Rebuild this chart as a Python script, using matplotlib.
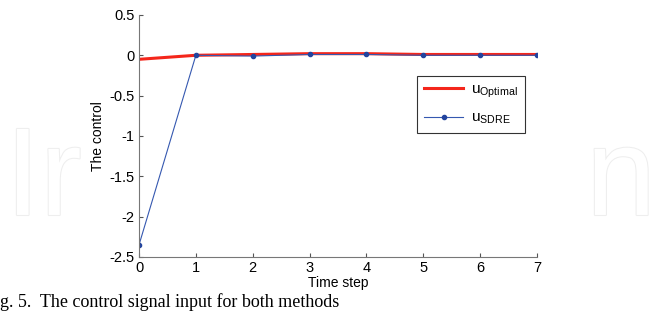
import matplotlib.pyplot as plt
import matplotlib.patheffects as pe

plt.rcParams['font.family'] = ['Liberation Sans', 'DejaVu Sans']

# data
steps = [0, 1, 2, 3, 4, 5, 6, 7]
u_optimal = [-0.05, 0.0, 0.01, 0.02, 0.02, 0.01, 0.01, 0.01]
u_sdre = [-2.35, 0.0, -0.01, 0.01, 0.01, 0.0, 0.0, 0.0]

x_ticks = [0, 1, 2, 3, 4, 5, 6, 7]
y_ticks = [-2.5, -2, -1.5, -1, -0.5, 0, 0.5]

fig = plt.figure(figsize=(6.7, 3.18), dpi=100)

# faint watermark letters behind the chart
for xx, txt in [(0.008, 'Ir'), (0.875, 'n')]:
    fig.text(xx, 0.324, txt, fontsize=90, color='white', zorder=0,
             path_effects=[pe.withStroke(linewidth=1.5, foreground='#eeeeee')])

ax = fig.add_axes([0.2075, 0.192, 0.594, 0.761])
ax.patch.set_alpha(0)

ax.plot(steps, u_optimal, color='#f4261b', linewidth=2.2, label=r'$\mathregular{u_{Optimal}}$')
ax.plot(steps, u_sdre, color='#3558b0', linewidth=0.8, marker='o', markersize=3,
        markerfacecolor='#23449e', markeredgecolor='#23449e', label=r'$\mathregular{u_{SDRE}}$')

ax.set_xlim(0, 7)
ax.set_ylim(-2.5, 0.5)
ax.set_xticks(x_ticks)
ax.set_yticks(y_ticks)
ax.set_yticklabels(['-2.5', '-2', '-1.5', '-1', '-0.5', '0', '0.5'])
ax.tick_params(direction='in', length=3, labelsize=10.5, color='#555555', pad=3)
ax.spines['top'].set_visible(False)
ax.spines['right'].set_visible(False)
ax.spines['left'].set_color('#777777')
ax.spines['bottom'].set_color('#777777')

ax.set_xlabel('Time step', fontsize=10, labelpad=1)
ax.set_ylabel('The control', fontsize=10, labelpad=3)

leg = ax.legend(loc='upper left', bbox_to_anchor=(0.698, 0.748), borderaxespad=0,
                fontsize=11, frameon=True, fancybox=False, edgecolor='black',
                handlelength=2.6, handletextpad=0.5, borderpad=0.45, labelspacing=0.7)
leg.get_frame().set_linewidth(0.8)

fig.text(0.0, 0.035, 'g. 5.  The control signal input for both methods',
         fontsize=13, family=['Liberation Serif', 'DejaVu Serif'])

fig.savefig('out.png', dpi=100)
